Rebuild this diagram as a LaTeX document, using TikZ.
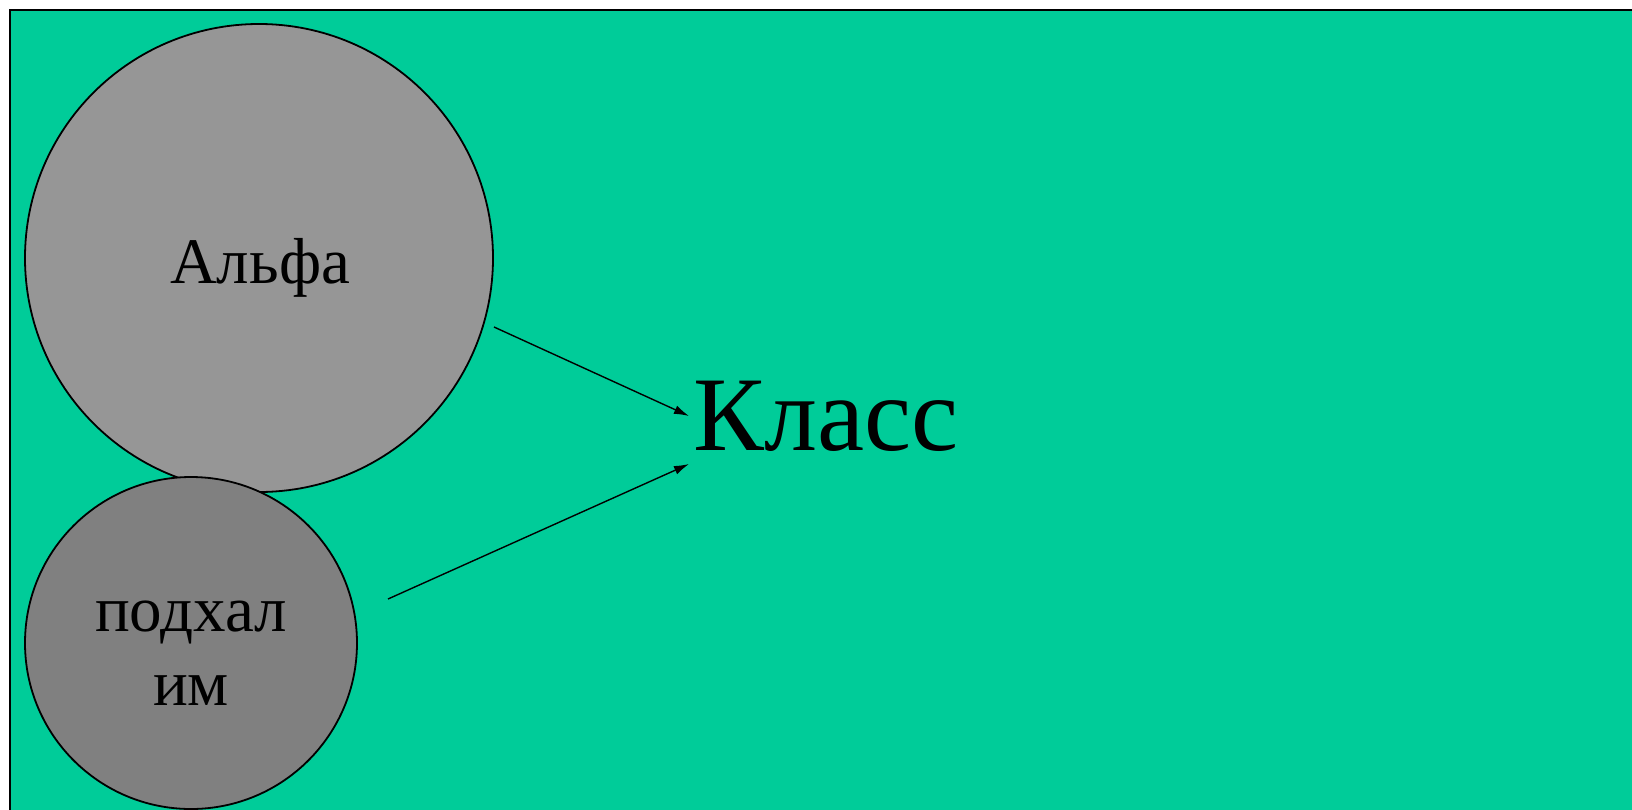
\documentclass[tikz,border=0pt]{standalone}
\usepackage{fontspec}
\setmainfont{Liberation Serif}
\usetikzlibrary{arrows.meta}
\definecolor{bggreen}{RGB}{0,204,153}
\definecolor{biggray}{RGB}{150,150,150}
\definecolor{smallgray}{RGB}{128,128,128}
\begin{document}
\begin{tikzpicture}[x=1pt,y=-1pt,
  blob/.style={circle,draw=black,line width=1.8pt,inner sep=0pt},
  conn/.style={line width=1.4pt,-{Latex[length=15pt,width=9pt]}}]
\useasboundingbox (0,0) rectangle (1632,809);
\fill[white] (0,0) rectangle (1632,809);
\draw[fill=bggreen,line width=1.8pt] (10,10) rectangle (1650,830);
\node[blob,fill=biggray,minimum size=468pt] (alpha) at (259,258) {};
\node[blob,fill=smallgray,minimum size=332pt] (podh) at (191,643) {};
\node[anchor=base,font=\fontsize{65}{74}\selectfont] (alphat) at (260,283) {Альфа};
\node[anchor=base,font=\fontsize{65}{74}\selectfont,align=center] (podht) at (191,705) {подхал\\им};
\node[anchor=base,font=\fontsize{106}{120}\selectfont,inner sep=0pt] (klass) at (826,450) {Класс};
\coordinate (s1) at (494,327);
\coordinate (e1) at (689,416);
\coordinate (s2) at (388,599);
\coordinate (e2) at (689,464);
\draw[conn] (s1) -- (e1);
\draw[conn] (s2) -- (e2);
\end{tikzpicture}
\end{document}
